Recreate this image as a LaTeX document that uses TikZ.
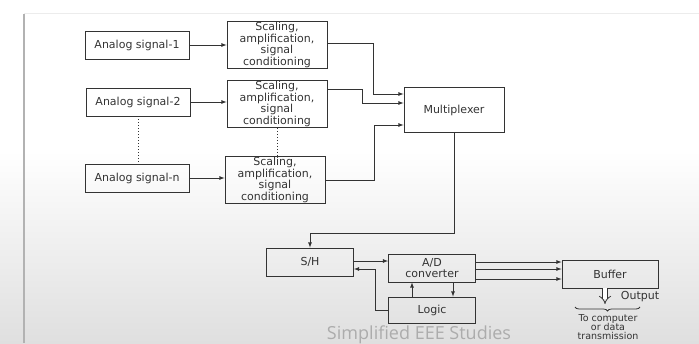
\documentclass[tikz,border=0pt]{standalone}
\usepackage{fontspec}
\setmainfont{DejaVu Sans}
\newfontfamily\wmfont{Open Sans}
\usetikzlibrary{shapes,arrows,arrows.meta,decorations.pathreplacing}
\tikzset{
	block/.style    = {draw, rectangle, inner sep=0pt, align=center,
		font=\fontsize{11}{11.4}\selectfont},
	sigbox/.style   = {block, minimum width=104pt, minimum height=28pt},
	condbox/.style  = {block, minimum width=100pt, minimum height=47pt},
	unit/.style     = {block, minimum width=87pt, minimum height=28pt}
}

\begin{document}
\begin{tikzpicture}[x=1pt, y=-1pt, auto, line width=0.8pt, >=latex, color=black!80]
		\useasboundingbox (0,0) rectangle (699,343);
		% slide background
		\fill[top color=white, bottom color=gray!25, draw=none] (0,150) rectangle (699,343);
		\draw[gray!15] (24,13) -- (699,13);
		\draw[gray!60, line width=1.2pt] (24,14) -- (24,343);
		
		\draw
		% Drawing the input channels
		node at (137,45) [sigbox] (a1) {Analog signal-1}
		node at (138,102) [sigbox] (a2) {Analog signal-2}
		node at (137,178) [sigbox] (an) {Analog signal-n}
		node at (277,45) [condbox] (sc1) {Scaling,\\amplification,\\signal\\conditioning}
		node at (277,104) [condbox] (sc2) {Scaling,\\amplification,\\signal\\conditioning}
		node at (275,180) [condbox] (scn) {Scaling,\\amplification,\\signal\\conditioning}
		node at (454,110) [block, minimum width=100pt, minimum height=45pt] (mux) {Multiplexer};
		
		\draw
		% Drawing the conversion stage
		node at (310,262) [unit] (sh) {S/H}
		node at (432,268) [unit] (ad) {A/D\\converter}
		node at (432,310) [unit, minimum height=26pt] (lg) {Logic}
		node at (610,274) [unit, minimum width=96pt] (buf) {Buffer};
		
		\draw[->](a1) -- (sc1);
		\draw[->](a2.east) -- (a2.east -| sc2.west);
		\draw[->](an.east) -- (an.east -| scn.west);
		\draw[dotted, line width=1pt](a2.south) -- (a2.south |- an.north);
		\draw[dotted, line width=1pt](sc2.south) -- (sc2.south |- scn.north);
		
		\draw[->]([yshift=2]sc1.east) -- ++(46,0) |- ([yshift=16]mux.west);
		\draw[->]([yshift=15]sc2.east) -- ++(35,0) |- ([yshift=7]mux.west);
		\draw[->](scn.east) -- ++(49,0) |- ([yshift=-15]mux.west);
		\draw[->](mux.south) -- ++(0,100) -| (sh.north);
		
		\draw[->]([yshift=1]sh.east) -- ([yshift=1]sh.east -| ad.west);
		\draw[->](lg.west) -- ++(-13,0) |- ([yshift=-7]sh.east);
		\draw[->]([xshift=-20]lg.north) -- ([xshift=-20]ad.south);
		\draw[->]([xshift=21]ad.south) -- ([xshift=21]lg.north);
		\foreach \dy in {6,-1,-11}
		\draw[->]([yshift=\dy]ad.east) -- ([yshift=\dy]ad.east -| buf.west);
		
		% output side
		\coordinate (out) at (605,304);
		\coordinate (br1) at (575,307);
		\coordinate (br2) at (640,307);
		\draw[double, double distance=3.5pt, line width=0.8pt, -{Implies}]([xshift=-5]buf.south) -- (out);
		\draw[decorate, decoration={brace, mirror, amplitude=4pt}](br1) -- (br2);
		\draw
		node at (640,297) [font=\fontsize{11}{11}\selectfont] (olab) {Output}
		node at (608,314) [anchor=north, align=center, inner sep=0pt,
			font=\fontsize{9.5}{9.3}\selectfont] (dest) {To computer\\or data\\transmission}
		node at (419,335) [text=gray!65, font=\wmfont\fontsize{18}{18}\selectfont] (wm) {Simplified EEE Studies};
		
		\end{tikzpicture}
\end{document}
